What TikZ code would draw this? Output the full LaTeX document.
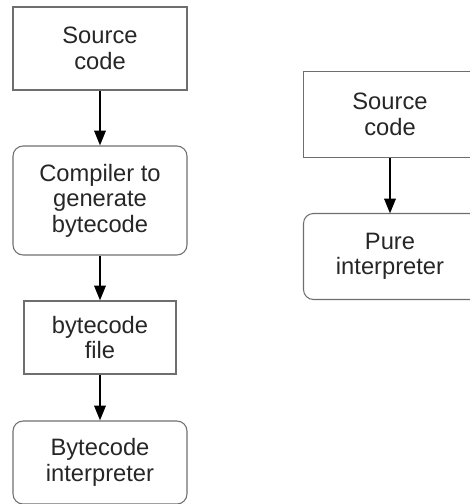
\documentclass[tikz,border=0pt]{standalone}
\usepackage{fontspec}
\setmainfont{Liberation Sans}
\usetikzlibrary{arrows.meta}
\definecolor{boxgray}{HTML}{6E6E6E}
\definecolor{textgray}{HTML}{262626}

\begin{document}
\begin{tikzpicture}[x=0.02cm,y=-0.02cm]
  \tikzset{
    plain/.style={draw=boxgray,line width=0.6pt,align=center,text=textgray,
      font=\fontsize{13.5}{14.5}\selectfont,inner sep=0pt},
    rounded/.style={plain,rounded corners=0.2cm},
    cutbox/.style={plain,draw=none},
    frame/.style={draw=boxgray,line width=0.6pt},
    flow/.style={-{Triangle[width=6.5pt,length=8.5pt]},line width=1.3pt,black},
  }
  \useasboundingbox (0,0) rectangle (470,504);
  \clip (0,0) rectangle (470,504);

  % Compiled route: source, compiler, bytecode file, interpreter.
  \node[plain,minimum width=3.48cm,minimum height=1.66cm] (src) at (100,48.5)
    {Source\\code};
  \node[rounded,minimum width=3.48cm,minimum height=2.18cm] (comp) at (100,200.5)
    {Compiler to\\generate\\bytecode};
  \node[plain,minimum width=3.04cm,minimum height=1.46cm] (bfile) at (100,337.5)
    {bytecode\\file};
  \node[rounded,minimum width=3.48cm,minimum height=1.66cm] (binterp) at (100,462.5)
    {Bytecode\\interpreter};

  \draw[flow] (src) -- (comp);
  \draw[flow] (comp) -- (bfile);
  \draw[flow] (bfile) -- (binterp);

  % Pure interpretation route, boxes run off the right edge.
  \node[cutbox,minimum width=3.44cm,minimum height=1.70cm] (psrc) at (390,114.5)
    {Source\\code};
  \node[cutbox,minimum width=3.44cm,minimum height=1.70cm] (pinterp) at (390,256.5)
    {Pure\\interpreter};
  \draw[frame] (psrc.north west) rectangle ([xshift=0.4cm]psrc.south east);
  \draw[frame,rounded corners=0.2cm]
    (pinterp.north west) rectangle ([xshift=0.4cm]pinterp.south east);

  \draw[flow] (psrc) -- (pinterp);
\end{tikzpicture}
\end{document}
